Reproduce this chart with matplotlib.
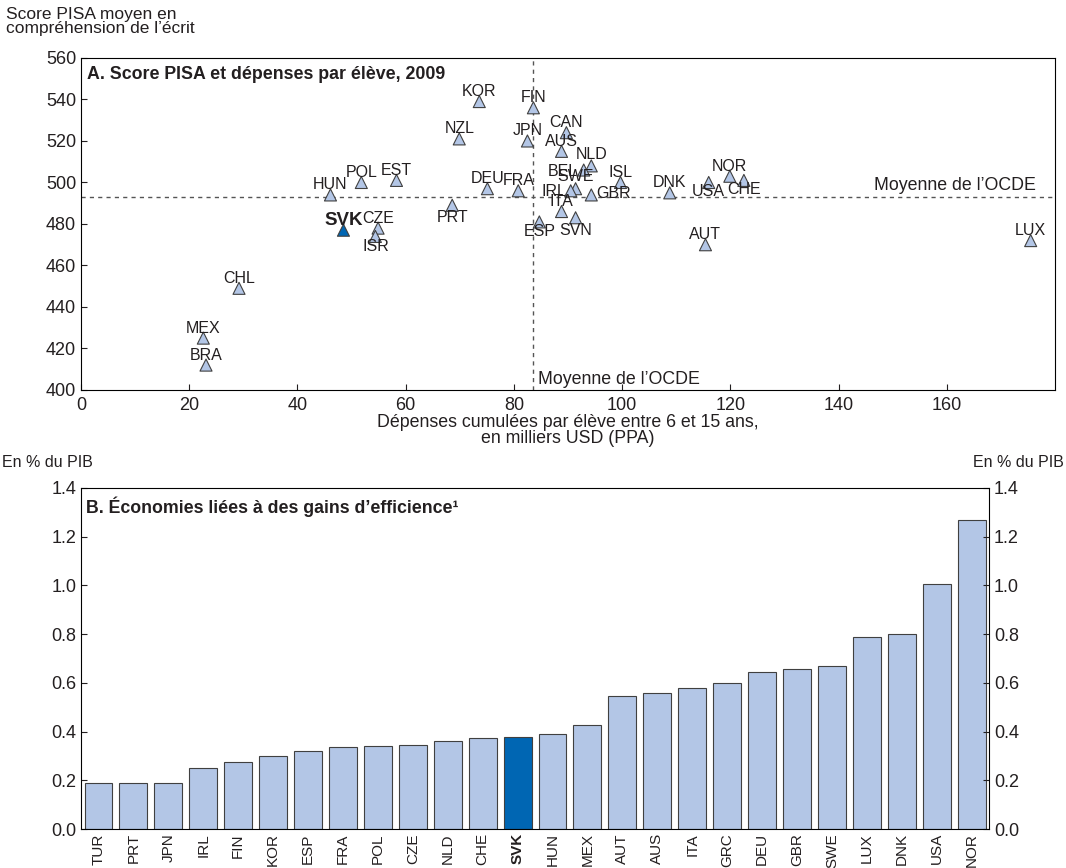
import matplotlib
matplotlib.use('agg')
import numpy as np
import matplotlib.pyplot as plt

plt.rcParams['font.family'] = ['Liberation Sans', 'DejaVu Sans']
txt = '#231f20'

# Panel A : dépenses cumulées (milliers USD PPA) et score PISA 2009
pays_a = ['KOR', 'FIN', 'NZL', 'JPN', 'CAN', 'AUS', 'NLD', 'BEL', 'ISL', 'SWE',
          'IRL', 'GBR', 'DEU', 'FRA', 'ITA', 'SVN', 'ESP', 'PRT', 'DNK', 'USA',
          'NOR', 'CHE', 'AUT', 'LUX', 'HUN', 'POL', 'EST', 'SVK', 'CZE', 'ISR',
          'CHL', 'MEX', 'BRA']
depenses = [73.6, 83.6, 69.9, 82.5, 89.7, 88.8, 94.3, 92.9, 99.7, 91.4,
            90.5, 94.3, 75.1, 80.8, 88.8, 91.4, 84.7, 68.6, 108.8, 116.0,
            119.9, 122.5, 115.4, 175.5, 46.1, 51.8, 58.3, 48.5, 54.9, 54.4,
            29.2, 22.6, 23.1]
score = [539, 536, 521, 520, 524, 515, 508, 506, 500, 497,
         496, 494, 497, 496, 486, 483, 481, 489, 495, 500,
         503, 501, 470, 472, 494, 500, 501, 477, 478, 474,
         449, 425, 412]
moy_score = 493
moy_dep = 83.6

# décalage des étiquettes (pixels)
decal = {'BEL': (-21, -1), 'IRL': (-17, -1), 'GBR': (22, 1), 'SVN': (0, -13),
         'ESP': (0, -10), 'PRT': (0, -12), 'USA': (0, -9), 'CHE': (0, -9),
         'ISR': (0, -10), 'SWE': (0, 12), 'NLD': (0, 11)}

# Panel B : économies liées aux gains d'efficience (% du PIB)
pays_b = ['TUR', 'PRT', 'JPN', 'IRL', 'FIN', 'KOR', 'ESP', 'FRA', 'POL', 'CZE',
          'NLD', 'CHE', 'SVK', 'HUN', 'MEX', 'AUT', 'AUS', 'ITA', 'GRC', 'DEU',
          'GBR', 'SWE', 'LUX', 'DNK', 'USA', 'NOR']
economies = [0.19, 0.19, 0.19, 0.25, 0.275, 0.30, 0.32, 0.335, 0.34, 0.345,
             0.36, 0.375, 0.378, 0.39, 0.425, 0.545, 0.56, 0.58, 0.60, 0.645,
             0.655, 0.67, 0.79, 0.80, 1.005, 1.27]

clair = '#b3c6e6'
fonce = '#0066b3'

fig = plt.figure(figsize=(10.66, 8.68), dpi=100)

# ---- Panel A
ax1 = fig.add_axes([0.076, 0.5507, 0.9137, 0.3825])
couleurs = [fonce if p == 'SVK' else clair for p in pays_a]
ax1.scatter(depenses, score, marker='^', s=75, c=couleurs,
            edgecolors='#404040', linewidths=0.8, zorder=3)
ax1.axhline(moy_score, color='#555555', ls=(0, (3, 3)), lw=1, zorder=1)
ax1.axvline(moy_dep, color='#555555', ls=(0, (3, 3)), lw=1, zorder=1)
for p, x, y in zip(pays_a, depenses, score):
    dx, dy = decal.get(p, (0, 10))
    ax1.annotate(p, (x, y), xytext=(dx, dy), textcoords='offset pixels',
                 ha='center', va='center', color=txt,
                 fontweight='bold' if p == 'SVK' else 'normal',
                 fontsize=13.5 if p == 'SVK' else 11.5)
ax1.text(176.5, moy_score + 1.5, 'Moyenne de l\u2019OCDE', ha='right', va='bottom',
         fontsize=12.8, color=txt)
ax1.text(moy_dep + 0.9, 401, 'Moyenne de l\u2019OCDE', ha='left', va='bottom',
         fontsize=12.8, color=txt)
ax1.set_xlim(0, 180)
ax1.set_ylim(400, 560)
ax1.set_xticks(np.arange(0, 161, 20))
ax1.set_yticks(np.arange(400, 561, 20))
ax1.tick_params(direction='in', labelsize=13, colors=txt, length=4)
ax1.tick_params(axis='x', pad=5)
ax1.set_xlabel('Dépenses cumulées par élève entre 6 et 15 ans,\nen milliers USD (PPA)',
               fontsize=12.8, color=txt, labelpad=0, linespacing=0.9)
ax1.text(0.006, 0.975, 'A. Score PISA et dépenses par élève, 2009',
         transform=ax1.transAxes, ha='left', va='top', fontsize=12.8,
         fontweight='bold', color=txt)
fig.text(0.006, 0.992, 'Score PISA moyen en\ncompréhension de l\u2019écrit',
         ha='left', va='top', fontsize=12.5, color=txt, linespacing=0.9)

# ---- Panel B
ax2 = fig.add_axes([0.076, 0.0449, 0.8518, 0.3929])
xs = np.arange(len(pays_b))
cb = [fonce if p == 'SVK' else clair for p in pays_b]
ax2.bar(xs, economies, width=0.8, color=cb, edgecolor='#404040', linewidth=0.8)
ax2.set_xlim(-0.5, len(pays_b) - 0.5)
ax2.set_ylim(0, 1.4)
ax2.set_yticks(np.arange(0, 1.41, 0.2))
ax2.yaxis.set_major_formatter(matplotlib.ticker.FormatStrFormatter('%.1f'))
ax2.set_xticks(xs)
ax2.set_xticklabels(pays_b, rotation=90, fontsize=11, color=txt)
for lab in ax2.get_xticklabels():
    if lab.get_text() == 'SVK':
        lab.set_fontweight('bold')
ax2.tick_params(axis='x', length=0, pad=3)
ax2.tick_params(axis='y', direction='in', labelsize=13, colors=txt, length=4,
                left=True, right=True, labelleft=True, labelright=True)
ax2.text(0.006, 0.975, 'B. Économies liées à des gains d\u2019efficience\u00b9',
         transform=ax2.transAxes, ha='left', va='top', fontsize=12.8,
         fontweight='bold', color=txt)
fig.text(0.002, 0.467, 'En % du PIB', ha='left', va='center', fontsize=11.5, color=txt)
fig.text(0.998, 0.467, 'En % du PIB', ha='right', va='center', fontsize=11.5, color=txt)

plt.savefig('out.png', dpi=100)
